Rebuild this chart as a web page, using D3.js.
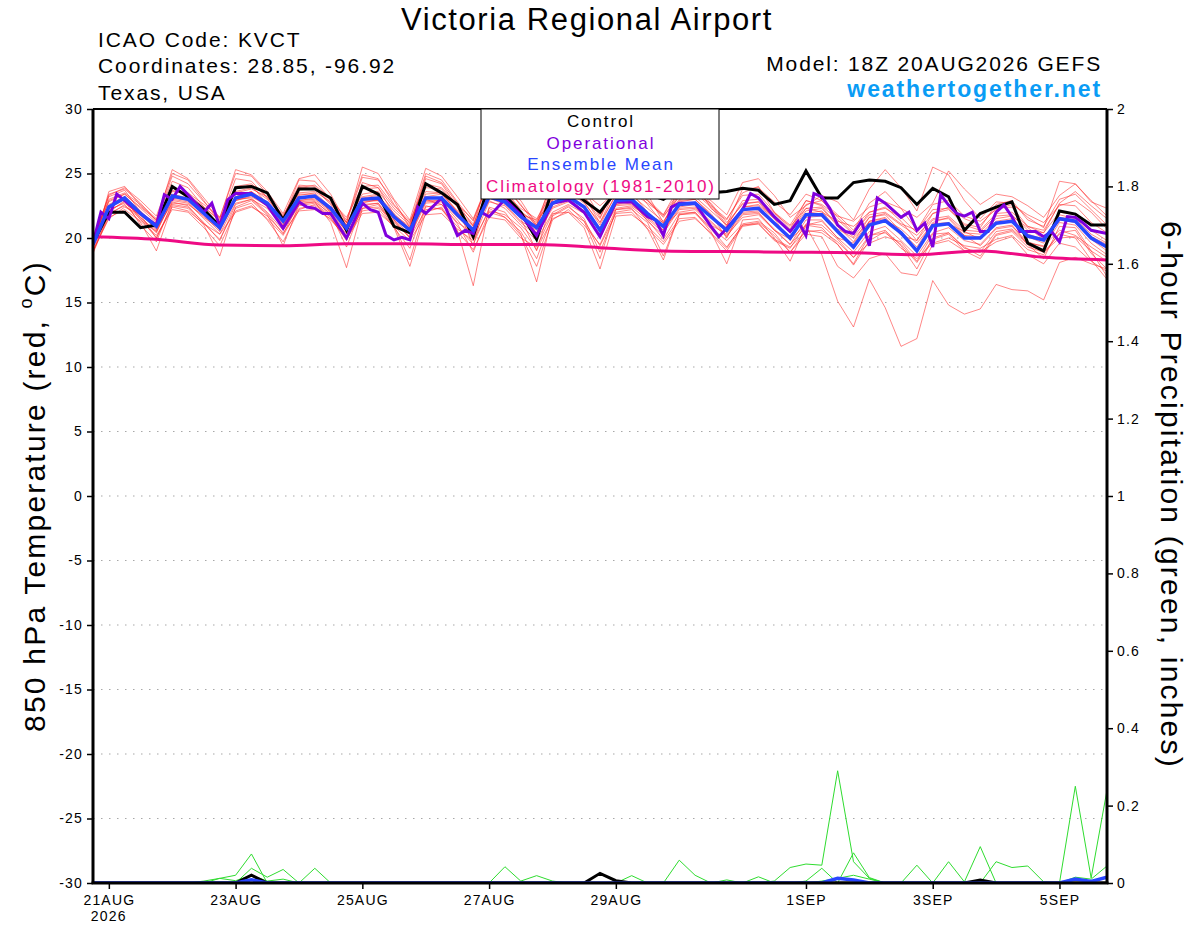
<!DOCTYPE html>
<html>
<head>
<meta charset="utf-8">
<script src="https://cdn.jsdelivr.net/npm/d3@7"></script>
<style>
  body { margin: 0; background: #fff; }
  svg text { font-family: "Liberation Sans", Arial, Helvetica, sans-serif; }
</style>
</head>
<body>
<svg id="chart" width="1200" height="927"></svg>
<script>
// GEFS plume, 6-hourly from 18Z 20AUG2026 (65 steps)
const runStart = Date.UTC(2026, 7, 20, 18);
const stepHours = 6;

const tickDates = ["2026-08-21", "2026-08-23", "2026-08-25", "2026-08-27", "2026-08-29", "2026-09-01", "2026-09-03", "2026-09-05"];
const tickLabels = ["21AUG", "23AUG", "25AUG", "27AUG", "29AUG", "1SEP", "3SEP", "5SEP"];
const tempTicks = [-30, -25, -20, -15, -10, -5, 0, 5, 10, 15, 20, 25, 30];
const precipTicks = [0, 0.2, 0.4, 0.6, 0.8, 1, 1.2, 1.4, 1.6, 1.8, 2];

// 850 hPa temperature, ensemble members (red)
const memberTemps = [
  [19.2, 23.6,24.0,22.5,21.4, 24.8,24.2,22.8,21.5, 25.3,24.9,23.6,21.9, 24.6,24.9,23.4,21.2, 25.5,25.0,23.0,21.4, 25.4,24.8,23.2,21.5, 24.5,24.0,22.9,21.0, 24.6,25.0,23.8,21.6, 24.0,24.2,23.0,21.8, 23.6,23.8,22.5,21.5, 23.3,23.4,22.0,21.0, 22.9,22.5,21.4,20.3, 22.0,22.4,21.3,19.8, 21.9,22.2,21.1,20.8, 22.6,22.9,21.4,20.9, 23.0,23.4,22.2,21.0],
  [18.8, 21.8,22.6,21.2,19.0, 22.5,22.3,21.0,18.6, 22.4,22.9,21.8,19.4, 22.6,22.8,21.2,17.7, 22.3,22.6,20.8,17.8, 22.0,22.4,20.6,16.3, 22.4,22.0,20.3,16.6, 21.8,22.5,21.3,18.4, 22.2,22.3,20.7,18.3, 21.8,22.0,20.5,18.0, 21.4,21.5,20.0,18.2, 21.0,20.8,19.5,18.0, 20.2,20.6,19.4,17.6, 20.0,20.4,19.3,18.6, 20.3,20.6,19.5,18.4, 20.9,20.8,19.0,17.0],
  [19.6, 22.9,23.4,22.3,21.2, 23.7,23.4,22.4,21.3, 23.6,23.9,23.0,21.6, 23.5,23.6,22.8,21.0, 23.4,23.6,22.1,21.0, 23.6,23.5,22.1,21.0, 23.6,23.3,22.0,21.2, 23.1,23.7,22.8,21.0, 23.4,23.3,22.3,21.3, 23.0,23.2,22.1,21.0, 22.7,22.8,21.6,20.5, 22.3,22.4,21.0,20.1, 21.6,21.9,21.0,20.2, 21.5,21.7,20.6,20.5, 21.7,21.8,20.6,20.4, 22.0,21.8,20.6,19.8],
  [19.4, 22.1,22.8,21.6,20.5, 22.9,22.7,21.5,20.3, 22.7,23.0,22.3,20.8, 22.8,22.9,21.8,20.3, 22.6,22.7,21.2,20.1, 22.7,22.8,21.4,19.9, 22.8,22.5,21.2,20.2, 22.3,22.8,22.0,20.0, 22.5,22.6,21.5,20.4, 22.2,22.3,21.2,20.1, 21.8,21.9,20.7,19.5, 21.4,21.4,20.0,19.6, 21.3,21.5,20.2,19.8, 21.4,21.5,20.2,19.4, 20.7,20.9,19.7,19.3, 21.2,21.0,19.6,18.7],
  [19.9, 23.2,23.7,22.0,20.6, 23.9,23.2,22.2,21.0, 23.8,24.1,22.6,20.9, 24.0,23.8,22.6,20.4, 24.3,23.9,21.8,20.9, 24.6,24.2,22.4,19.4, 23.9,23.0,21.5,19.0, 23.0,23.9,22.9,21.9, 23.9,24.2,22.6,21.1, 23.9,24.3,22.3,21.4, 23.5,24.0,22.0,20.7, 22.9,22.6,21.7,21.3, 22.4,22.8,22.3,21.6, 22.7,25.2,23.8,22.6, 23.4,23.2,22.5,21.6, 23.3,24.2,22.8,22.3],
  [19.0, 21.6,22.2,21.3,20.2, 22.2,22.0,20.8,19.4, 22.1,22.5,21.5,20.2, 22.3,22.5,21.4,20.1, 22.1,22.3,20.8,19.2, 22.5,22.2,20.9,19.5, 22.3,21.6,20.5,18.4, 21.7,22.4,21.5,18.9, 22.0,22.2,21.2,18.6, 21.8,21.9,20.7,19.3, 21.0,21.2,20.2,18.9, 20.6,20.4,19.5,17.9, 19.8,20.5,19.2,18.4, 19.6,20.0,19.4,19.2, 19.9,20.2,19.1,18.7, 20.4,20.6,18.8,17.6],
  [19.7, 23.3,23.9,22.9,21.7, 25.0,24.5,22.9,21.2, 24.6,24.4,23.1,21.5, 24.5,24.4,23.0,21.2, 24.7,24.5,22.9,20.8, 24.8,24.3,22.7,20.9, 24.9,24.2,22.5,21.3, 24.3,24.5,23.5,22.5, 23.6,23.5,22.7,21.8, 24.0,24.3,22.6,21.0, 23.8,23.9,22.8,21.8, 23.4,22.9,21.8,20.6, 22.7,23.6,22.3,20.6, 22.6,22.9,21.7,21.3, 22.2,22.6,21.8,21.2, 22.5,22.9,22.0,20.7],
  [19.3, 22.6,23.2,22.0,21.0, 23.4,23.1,22.1,20.6, 23.2,23.6,22.8,21.4, 23.3,23.5,22.4,21.2, 23.1,23.3,21.9,20.7, 23.4,23.5,22.0,20.9, 23.6,23.1,21.8,21.4, 22.9,23.6,22.7,21.2, 23.3,23.5,22.0,20.6, 22.8,23.0,21.9,20.4, 22.4,22.6,21.6,20.4, 22.1,22.3,20.9,19.7, 21.6,21.8,20.5,19.3, 21.2,21.6,20.4,20.3, 21.5,21.7,20.8,19.9, 21.8,21.5,20.3,19.6],
  [19.5, 22.3,23.0,21.6,20.4, 23.0,22.8,21.6,20.7, 22.9,23.3,22.5,21.0, 22.9,23.0,22.0,20.5, 22.8,22.9,21.4,20.3, 22.8,22.9,21.6,20.5, 23.1,22.6,21.3,20.6, 22.4,22.9,22.0,20.2, 22.6,22.7,21.6,20.6, 22.3,22.4,21.3,20.2, 21.6,21.8,20.6,19.5, 20.9,18.7,15.1,13.1, 16.8,14.6,11.6,12.2, 16.7,14.8,14.1,14.5, 16.4,16.0,15.9,15.2, 18.1,18.5,18.0,17.6],
  [18.9, 21.9,22.5,21.5,20.0, 22.6,22.4,21.2,19.8, 22.6,23.0,21.9,20.3, 22.7,22.8,21.9,19.3, 22.5,22.7,21.0,18.3, 22.4,22.6,21.1,18.9, 22.0,21.6,20.2,17.8, 21.4,22.2,21.0,19.5, 22.2,22.4,21.4,19.9, 21.9,22.0,20.8,19.8, 21.1,21.3,20.4,18.9, 20.3,20.1,17.8,16.9, 18.4,18.8,17.3,17.1, 19.5,19.8,19.0,18.9, 19.7,20.1,18.7,18.0, 19.6,19.3,18.2,17.4],
  [20.0, 22.8,23.4,22.4,21.4, 23.6,23.5,22.6,21.6, 23.5,23.8,23.2,21.8, 23.7,23.9,22.7,21.0, 23.8,23.9,22.3,21.2, 23.9,23.8,22.4,21.1, 23.8,23.4,22.3,21.5, 23.5,24.0,23.2,21.8, 23.5,23.7,22.9,21.6, 23.4,23.7,22.9,21.8, 24.3,24.6,23.3,21.6, 22.5,23.3,22.8,21.4, 23.8,25.3,23.9,22.1, 25.5,24.9,22.9,21.5, 22.8,22.7,21.6,20.8, 24.4,24.2,22.9,21.7],
  [19.1, 22.0,22.9,21.0,19.7, 22.8,22.5,21.1,19.9, 22.3,22.7,21.4,19.7, 22.2,22.6,21.6,19.8, 22.3,22.4,21.3,20.0, 22.2,22.3,20.5,19.1, 21.6,21.4,20.0,19.3, 21.9,22.0,20.8,17.6, 21.7,21.8,20.9,19.7, 21.5,21.6,20.3,19.0, 20.9,21.1,19.8,19.2, 21.1,21.0,19.9,18.5, 19.6,20.1,19.7,18.2, 20.3,20.4,19.2,18.9, 20.5,20.7,19.6,19.4, 20.6,20.2,19.3,18.5],
  [19.8, 23.0,23.5,22.6,21.5, 24.4,23.9,22.4,21.4, 24.0,24.2,23.2,21.7, 24.1,24.0,22.9,21.6, 24.0,24.1,22.5,21.3, 24.2,23.9,22.6,21.4, 24.5,23.9,22.6,20.9, 23.7,24.2,23.1,21.5, 24.2,24.4,23.4,21.2, 23.3,23.5,22.4,20.9, 22.9,23.0,21.9,20.9, 22.3,22.0,21.3,20.9, 22.0,22.3,21.6,20.4, 21.9,22.4,21.5,21.0, 22.3,22.4,20.9,20.6, 22.6,22.5,21.2,20.4],
  [19.5, 22.5,23.2,22.1,20.8, 23.1,22.9,21.8,21.0, 22.9,23.2,22.5,21.1, 22.9,23.1,22.1,20.9, 22.9,22.9,21.7,20.8, 22.9,22.9,21.8,20.7, 23.1,22.8,21.9,20.9, 22.6,23.0,22.1,20.8, 22.8,22.9,21.8,21.2, 22.4,22.6,21.6,20.8, 22.0,22.1,21.1,20.1, 21.6,21.7,20.7,20.0, 21.2,21.4,20.7,19.6, 21.1,21.2,20.2,20.1, 21.3,21.5,20.3,19.9, 21.6,21.4,20.1,19.5],
  [19.3, 22.2,22.7,21.8,20.7, 22.7,22.6,21.7,20.5, 23.0,23.1,22.0,20.6, 22.5,22.7,21.7,20.6, 22.7,23.0,21.5,20.5, 23.0,22.6,21.2,20.4, 22.9,22.3,21.0,19.8, 22.0,22.6,21.9,20.3, 22.3,22.5,21.7,20.9, 22.0,22.2,21.0,20.3, 21.9,22.0,20.6,19.9, 21.0,21.3,20.0,18.9, 20.5,20.9,19.8,18.6, 20.4,20.8,19.8,19.5, 20.8,21.0,19.5,18.9, 20.3,20.0,18.3,16.8],
  [19.6, 23.4,23.8,22.7,21.3, 25.3,24.6,23.1,21.6, 25.0,24.8,23.4,21.6, 23.9,24.1,23.1,21.4, 24.9,24.6,22.6,21.1, 25.0,24.5,22.8,21.3, 24.4,23.8,22.1,21.0, 24.1,24.4,23.2,21.2, 23.8,24.0,22.9,21.7, 23.2,23.4,22.7,21.2, 22.6,22.8,21.5,20.6, 22.6,22.9,21.6,20.4, 21.8,22.0,21.1,20.6, 22.2,22.3,21.0,20.6, 21.9,22.0,20.9,20.4, 22.7,23.6,22.5,21.5],
  [19.4, 22.4,23.0,21.4,20.5, 23.3,23.0,22.0,20.9, 23.2,23.6,22.5,21.4, 23.4,23.4,22.0,20.8, 23.2,23.4,21.4,20.0, 23.2,23.4,22.0,20.0, 23.4,23.0,21.8,20.4, 23.0,23.4,22.5,20.0, 22.6,22.9,21.3,20.2, 22.9,23.0,21.8,20.0, 22.4,22.5,21.5,19.8, 21.9,22.1,20.6,19.2, 21.3,21.6,20.3,19.0, 21.0,21.1,20.5,19.9, 21.1,21.4,20.1,19.6, 21.4,21.2,19.9,19.0],
  [19.0, 21.5,22.4,21.8,20.0, 22.4,22.1,21.1,20.3, 22.0,22.4,21.7,20.4, 22.1,22.2,21.5,19.9, 21.9,22.0,20.9,19.8, 21.8,21.9,20.7,19.8, 22.1,21.8,20.8,19.1, 21.5,22.0,21.3,19.4, 21.9,22.0,20.7,19.5, 21.3,21.5,20.4,19.2, 21.0,21.1,19.9,19.3, 20.5,20.6,19.7,18.5, 20.2,20.4,19.5,18.1, 19.9,20.3,19.0,18.4, 20.2,20.5,19.3,18.9, 20.0,20.1,19.0,18.2]
];

const controlTemps = [19.6, 22.0,22.0,20.8,21.0, 24.0,23.2,22.2,20.9, 23.9,24.0,23.5,21.4, 23.8,23.8,23.1,20.6, 24.0,23.4,20.9,20.4, 24.2,23.5,22.6,20.1, 24.3,23.3,22.0,19.9, 23.8,23.9,22.9,22.0, 23.6,23.8,23.4,23.0, 23.8,23.7,23.5,23.6, 23.85,23.7,22.6,22.9, 25.2,23.1,23.1,24.3, 24.5,24.4,23.9,22.6, 23.85,23.2,20.6,21.9, 22.4,22.8,19.6,19.0, 22.1,21.85,21.0,21.0];

const meanTemps = [19.5, 22.4,23.1,21.9,20.9, 23.25,23.0,21.9,20.8, 23.1,23.4,22.7,21.3, 23.1,23.25,22.3,20.75, 23.0,23.1,21.65,20.6, 23.1,23.1,21.8,20.6, 23.2,22.8,21.65,20.8, 22.7,23.2,22.4,20.6, 22.9,23.0,21.9,20.9, 22.6,22.7,21.65,20.6, 22.2,22.3,21.15,20.0, 21.8,21.8,20.5,19.3, 21.0,21.35,20.4,19.0, 20.95,21.1,20.0,20.0, 21.15,21.3,20.15,19.85, 21.5,21.3,20.0,19.3];

// operational run is 3-hourly in places
const opHours = [0,3,6,9,12,18,24,27,30,33,36,42,45,48,51,54,60,66,72,78,81,84,87,90,96,102,105,108,111,114,117,120,123,126,132,138,141,144,147,150,156,162,168,174,180,186,192,198,204,210,213,216,219,222,228,234,237,240,246,249,252,258,264,267,270,273,276,279,282,285,288,291,294,297,300,306,309,312,315,318,321,324,327,330,333,336,339,342,345,348,351,354,357,360,363,366,369,372,375,378,384];
const opTemps = [19.6,22.0,21.5,23.4,22.9,21.9,21.0,23.35,23.0,24.0,23.35,22.0,22.7,20.9,22.95,23.45,23.45,22.55,20.75,22.8,22.4,22.3,21.9,21.9,20.0,22.7,22.2,22.0,20.2,19.85,20.05,19.85,22.4,21.9,23.1,20.2,20.6,20.35,22.0,21.65,23.0,21.8,20.2,22.7,22.95,22.0,20.1,22.8,22.8,21.65,21.4,20.2,22.4,22.7,22.7,20.9,20.1,20.75,22.2,23.45,23.1,21.65,20.5,21.3,20.2,23.45,23.2,22.3,21.0,20.5,20.35,21.3,19.4,23.1,22.7,21.6,22.0,20.6,21.15,19.3,23.35,22.55,21.9,21.7,22.0,20.5,20.5,22.0,22.55,21.65,20.5,20.5,20.5,20.1,20.5,19.7,21.65,21.6,21.15,20.6,20.35];

// 1981-2010 climatology, daily
const climoHours = [0,24,48,72,96,120,144,168,192,216,240,264,288,312,336,360,384];
const climoTemps = [20.1,19.9,19.45,19.4,19.55,19.55,19.5,19.5,19.25,19.0,18.95,18.9,18.85,18.7,19.0,18.5,18.3];

// 6-hour precipitation (inches)
const memberPrecip = [
  [0,0,0,0,0,0,0,0,0.012,0.02, 0.075,0,0,0,0,0,0,0,0,0, 0,0,0,0,0,0,0,0,0,0, 0,0,0,0,0,0,0,0,0,0, 0,0,0,0.005,0.04,0.049,0.046,0.29,0.055,0.012, 0,0,0,0,0,0,0,0,0,0, 0,0,0,0,0],
  [0,0,0,0,0,0,0,0,0,0, 0.038,0.015,0.035,0,0.038,0,0,0,0,0, 0,0,0,0,0,0,0.042,0.005,0.019,0.005, 0,0,0,0,0,0,0,0,0,0, 0,0,0,0,0,0.005,0.038,0,0.078,0.014, 0,0,0,0,0,0,0,0,0,0, 0,0,0,0,0],
  [0,0,0,0,0,0,0,0,0,0, 0,0,0,0,0,0,0,0,0,0, 0,0,0,0,0,0,0,0,0,0, 0,0,0,0,0.019,0,0,0.059,0.02,0, 0.008,0,0,0,0,0,0,0,0,0, 0,0,0.046,0,0.055,0.003,0.094,0,0,0, 0,0,0,0,0],
  [0,0,0,0,0,0,0,0,0,0, 0,0,0,0,0,0,0,0,0,0, 0,0,0,0,0,0,0,0,0,0, 0,0,0,0,0,0,0,0,0,0, 0,0,0.016,0,0,0,0,0,0,0, 0,0,0,0,0,0,0,0.055,0.04,0.044, 0.003,0,0.25,0.013,0.24],
  [0,0,0,0,0,0,0,0,0,0, 0,0,0,0,0,0,0,0,0,0, 0,0,0,0,0,0,0,0,0,0, 0,0,0,0,0,0,0,0,0,0, 0,0,0,0,0,0,0.005,0.012,0.02,0.01, 0,0,0,0,0,0,0,0,0,0, 0,0,0.015,0.01,0.044],
  [0,0,0,0,0,0,0,0.005,0.012,0.006, 0.02,0.005,0.01,0,0,0,0,0,0,0, 0,0,0,0,0,0,0,0,0,0, 0,0,0,0,0,0,0,0,0,0, 0,0,0,0,0,0,0,0,0,0, 0,0,0,0,0,0,0,0,0,0, 0,0,0,0,0]
];
const controlPrecip = [0,0,0,0,0,0,0,0,0,0, 0.02,0,0,0,0,0,0,0,0,0, 0,0,0,0,0,0,0,0,0,0, 0,0,0.025,0.006,0,0,0,0,0,0, 0,0,0,0,0,0,0,0,0,0, 0,0,0,0,0,0,0.008,0,0,0, 0,0,0,0,0];
const meanPrecip = [0,0,0,0,0,0,0,0,0,0, 0.008,0,0,0,0,0,0,0,0,0, 0,0,0,0,0,0,0,0,0,0, 0,0,0,0,0,0,0,0,0,0, 0,0,0,0,0,0,0,0.012,0.008,0, 0,0,0,0,0,0,0,0,0,0, 0,0,0.01,0.004,0.015];

const legendItems = [
  {label: "Control", color: "#000000"},
  {label: "Operational", color: "#8000dd"},
  {label: "Ensemble Mean", color: "#2846ff"},
  {label: "Climatology (1981-2010)", color: "#ee0a84"}
];

const svg = d3.select("#chart");
const plotLeft = 93, plotRight = 1107, plotTop = 109, plotBottom = 883;

const x = d3.scaleUtc()
  .domain([new Date(runStart), new Date(runStart + 384 * 3600e3)])
  .range([plotLeft, plotRight]);
const yT = d3.scaleLinear().domain([-30, 30]).range([plotBottom, plotTop]);
const yP = d3.scaleLinear().domain([0, 2]).range([plotBottom, plotTop]);

const atHour = h => new Date(runStart + h * 3600e3);
const atStep = i => atHour(i * stepHours);

svg.append("defs").append("clipPath").attr("id", "plot")
  .append("rect").attr("x", plotLeft).attr("y", plotTop)
  .attr("width", plotRight - plotLeft).attr("height", plotBottom - plotTop);

// grid
svg.append("g").selectAll("line")
  .data(tempTicks.filter(d => d > -30 && d < 30))
  .enter().append("line")
  .attr("x1", plotLeft).attr("x2", plotRight)
  .attr("y1", d => yT(d)).attr("y2", d => yT(d))
  .attr("stroke", "#a8a8a8").attr("stroke-width", 1.2)
  .attr("stroke-dasharray", "1.5,6.5");

const plot = svg.append("g").attr("clip-path", "url(#plot)");

const tempLine = d3.line().x((d, i) => x(atStep(i))).y(d => yT(d));
const precipLine = d3.line().x((d, i) => x(atStep(i))).y(d => yP(d));

plot.selectAll(".member").data(memberTemps).enter().append("path")
  .attr("class", "member")
  .attr("d", tempLine).attr("fill", "none")
  .attr("stroke", "#ff2020").attr("stroke-opacity", 0.6).attr("stroke-width", 0.9);

plot.selectAll(".precip").data(memberPrecip).enter().append("path")
  .attr("class", "precip")
  .attr("d", precipLine).attr("fill", "none")
  .attr("stroke", "#2fdc2f").attr("stroke-width", 1);

plot.append("path").datum(controlPrecip).attr("d", precipLine)
  .attr("fill", "none").attr("stroke", "#000").attr("stroke-width", 3);
plot.append("path").datum(meanPrecip).attr("d", precipLine)
  .attr("fill", "none").attr("stroke", "#2846ff").attr("stroke-width", 3.5);

plot.append("path").datum(climoTemps)
  .attr("d", d3.line().curve(d3.curveMonotoneX).x((d, i) => x(atHour(climoHours[i]))).y(d => yT(d)))
  .attr("fill", "none").attr("stroke", "#ee0a84").attr("stroke-width", 3);

plot.append("path").datum(controlTemps).attr("d", tempLine)
  .attr("fill", "none").attr("stroke", "#000").attr("stroke-width", 3);

plot.append("path").datum(opTemps)
  .attr("d", d3.line().x((d, i) => x(atHour(opHours[i]))).y(d => yT(d)))
  .attr("fill", "none").attr("stroke", "#8000dd").attr("stroke-width", 3);

plot.append("path").datum(meanTemps).attr("d", tempLine)
  .attr("fill", "none").attr("stroke", "#2846ff").attr("stroke-width", 3.5);

// axes
const leftAxis = svg.append("g").attr("transform", `translate(${plotLeft},0)`)
  .call(d3.axisLeft(yT).tickValues(tempTicks).tickSize(6).tickPadding(4).tickFormat(d => String(d)));
const rightAxis = svg.append("g").attr("transform", `translate(${plotRight},0)`)
  .call(d3.axisRight(yP).tickValues(precipTicks).tickSize(6).tickPadding(4).tickFormat(d => String(+d.toFixed(1))));
const bottomAxis = svg.append("g").attr("transform", `translate(0,${plotBottom})`)
  .call(d3.axisBottom(x).tickValues(tickDates.map(d => new Date(d + "T00:00:00Z")))
    .tickSize(6).tickPadding(6).tickFormat((d, i) => tickLabels[i]));

[leftAxis, rightAxis, bottomAxis].forEach(g => {
  g.select(".domain").remove();
  g.selectAll(".tick line").attr("stroke", "#000").attr("stroke-width", 1.5);
  g.selectAll(".tick text").attr("font-size", 14).attr("fill", "#000")
    .attr("letter-spacing", 1.2)
    .style("font-family", "'Liberation Sans', Arial, sans-serif");
});

bottomAxis.append("text").attr("x", x(new Date(tickDates[0] + "T00:00:00Z"))).attr("y", 38)
  .attr("text-anchor", "middle").attr("font-size", 14).attr("letter-spacing", 1.2)
  .attr("fill", "#000").text("2026");

// frame
svg.append("line").attr("x1", plotLeft).attr("x2", plotRight).attr("y1", plotTop).attr("y2", plotTop)
  .attr("stroke", "#000").attr("stroke-width", 2);
svg.append("line").attr("x1", plotLeft - 1.5).attr("x2", plotRight + 1.5).attr("y1", plotBottom).attr("y2", plotBottom)
  .attr("stroke", "#000").attr("stroke-width", 3);
svg.append("line").attr("x1", plotLeft).attr("x2", plotLeft).attr("y1", plotTop).attr("y2", plotBottom)
  .attr("stroke", "#000").attr("stroke-width", 3);
svg.append("line").attr("x1", plotRight).attr("x2", plotRight).attr("y1", plotTop).attr("y2", plotBottom)
  .attr("stroke", "#000").attr("stroke-width", 3);

// legend
const legend = svg.append("g");
legend.append("rect").attr("x", 481).attr("y", plotTop).attr("width", 238).attr("height", 90)
  .attr("fill", "#fff").attr("stroke", "#000").attr("stroke-width", 1);
legend.selectAll("text").data(legendItems).enter().append("text")
  .attr("x", 601).attr("y", (d, i) => 127 + i * 21.6)
  .attr("text-anchor", "middle").attr("font-size", 17).attr("letter-spacing", 1.9)
  .attr("fill", d => d.color).text(d => d.label);

// titles
svg.append("text").attr("x", 587).attr("y", 30).attr("text-anchor", "middle")
  .attr("font-size", 31).attr("letter-spacing", 1.6).text("Victoria Regional Airport");
const header = [
  {text: "ICAO Code: KVCT", y: 47},
  {text: "Coordinates: 28.85, -96.92", y: 73},
  {text: "Texas, USA", y: 100}
];
svg.selectAll(".hdr").data(header).enter().append("text")
  .attr("x", 98).attr("y", d => d.y).attr("font-size", 21).attr("letter-spacing", 1.9)
  .text(d => d.text);
svg.append("text").attr("x", 1102).attr("y", 71).attr("text-anchor", "end")
  .attr("font-size", 21).attr("letter-spacing", 1.85).text("Model: 18Z 20AUG2026 GEFS");
svg.append("text").attr("x", 1102).attr("y", 97).attr("text-anchor", "end")
  .attr("font-size", 23).attr("font-weight", "bold").attr("letter-spacing", 1.9)
  .attr("fill", "#0a9cf5").text("weathertogether.net");

const yTitle = svg.append("text").attr("transform", "translate(45,496) rotate(-90)")
  .attr("text-anchor", "middle").attr("font-size", 30).attr("letter-spacing", 2.2);
yTitle.append("tspan").text("850 hPa Temperature (red, ");
yTitle.append("tspan").attr("font-size", 18).attr("dy", -13).text("o");
yTitle.append("tspan").attr("dy", 13).text("C)");

svg.append("text").attr("transform", "translate(1161,495) rotate(90)")
  .attr("text-anchor", "middle").attr("font-size", 30).attr("letter-spacing", 2.2)
  .text("6-hour Precipitation (green, inches)");
</script>
</body>
</html>
